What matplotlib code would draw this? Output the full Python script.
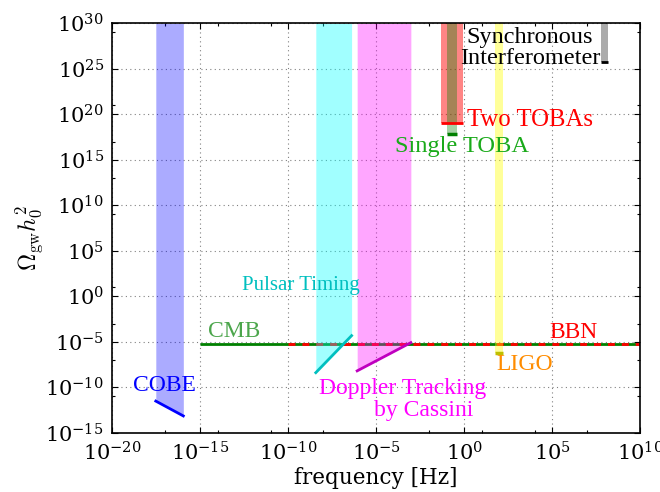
import matplotlib
matplotlib.use("Agg")
import matplotlib.pyplot as plt
import numpy as np
from matplotlib.ticker import FixedLocator, FuncFormatter, NullFormatter

plt.rcParams['font.family'] = ['DejaVu Serif']
plt.rcParams['mathtext.fontset'] = 'dejavuserif'

# ---- data ----
band_top = 1e30

cobe_freq = [3e-18, 1.1e-16]
cobe_omega = [3e-12, 7e-14]

pulsar_freq = [3.7e-9, 4e-7]
pulsar_omega = [4e-9, 4.7e-5]

cassini_freq = [8.3e-7, 9.3e-4]
cassini_omega = [6.3e-9, 8e-6]

cmb_freq = [1e-15, 1e10]
cmb_omega = [5.5e-6, 5.5e-6]

bbn_freq = [1e-10, 1e10]
bbn_omega = [5.5e-6, 5.5e-6]

ligo_freq = [56, 160]
ligo_omega = [5.5e-7, 5.5e-7]

two_toba_freq = [0.048, 0.87]
two_toba_omega = [1.2e19, 1.2e19]

single_toba_freq = [0.105, 0.37]
single_toba_omega = [6.8e17, 6.8e17]

sync_freq = [5.6e7, 1.5e8]
sync_omega = [6e25, 6e25]

x_major = [1e-20, 1e-15, 1e-10, 1e-5, 1e0, 1e5, 1e10]
y_major = [1e-15, 1e-10, 1e-5, 1e0, 1e5, 1e10, 1e15, 1e20, 1e25, 1e30]
x_minor_exp = [-17, -14, -11, -8, -2, 1, 4, 7]
y_minor_exp = [29, 21, 17, 13, 9, 1, -3, -7, -11]

# ---- figure ----
fig = plt.figure(figsize=(6.6, 4.92), dpi=100)
ax = fig.add_axes([0.170, 0.1205, 0.800, 0.832])
ax.set_xscale('log')
ax.set_yscale('log')
ax.set_xlim(1e-20, 1e10)
ax.set_ylim(1e-15, 1e30)

# background limit lines
ax.plot(cmb_freq, cmb_omega, color='green', lw=2, zorder=2, solid_capstyle='butt')
ax.plot(bbn_freq, bbn_omega, color='red', lw=2, dashes=(2.5, 2.5), zorder=2.1)

# bands (drawn over the limit lines)
ax.fill_between(cobe_freq, cobe_omega, band_top, color='blue', alpha=0.33, lw=0, zorder=3)
ax.fill_between(pulsar_freq, pulsar_omega, band_top, color='cyan', alpha=0.37, lw=0, zorder=3)
ax.fill_between(cassini_freq, cassini_omega, band_top, color='magenta', alpha=0.35, lw=0, zorder=3)
ax.fill_between(ligo_freq, ligo_omega, band_top, color='yellow', alpha=0.4, lw=0, zorder=3)
ax.fill_between(two_toba_freq, two_toba_omega, band_top, color='red', alpha=0.48, lw=0, zorder=3)
ax.fill_between(single_toba_freq, single_toba_omega, band_top, color='green', alpha=0.35, lw=0, zorder=3.1)
ax.fill_between(sync_freq, sync_omega, band_top, color='black', alpha=0.33, lw=0, zorder=3)

# sensitivity lines
ax.plot(cobe_freq, cobe_omega, color='b', lw=2, zorder=4)
ax.plot(pulsar_freq, pulsar_omega, color='c', lw=2, zorder=4)
ax.plot(cassini_freq, cassini_omega, color='m', lw=2, zorder=4)
ax.plot(ligo_freq, ligo_omega, color='y', lw=2.5, zorder=4, solid_capstyle='butt')
ax.plot(two_toba_freq, two_toba_omega, color='red', lw=2, zorder=4, solid_capstyle='butt')
ax.plot(single_toba_freq, single_toba_omega, color='green', lw=2.5, zorder=4, solid_capstyle='butt')
ax.plot(sync_freq, sync_omega, color='black', lw=2, zorder=4, solid_capstyle='butt')

# labels
tf = 'Liberation Serif'
fs = 17
ax.text(10**-17.03, 10**-9.86, 'COBE', color='blue', fontsize=fs, family=tf, ha='center', va='center', zorder=5)
ax.text(10**-13.09, 10**-3.9, 'CMB', color='green', alpha=0.7, fontsize=fs, family=tf, ha='center', va='center', zorder=5)
ax.text(10**-9.3, 10**1.2, 'Pulsar Timing', color='c', fontsize=15, family=tf, ha='center', va='center', zorder=5)
ax.text(10**-3.5, 10**-10.19, 'Doppler Tracking', color='magenta', fontsize=fs, family=tf, ha='center', va='center', zorder=5)
ax.text(10**-2.32, 10**-12.6, 'by Cassini', color='magenta', fontsize=fs, family=tf, ha='center', va='center', zorder=5)
ax.text(10**6.23, 10**-3.96, 'BBN', color='red', fontsize=fs, family=tf, ha='center', va='center', zorder=5)
ax.text(10**3.43, 10**-7.55, 'LIGO', color='darkorange', fontsize=fs, family=tf, ha='center', va='center', zorder=5)
ax.text(10**0.15, 10**19.37, 'Two TOBAs', color='red', fontsize=17.8, family=tf, ha='left', va='center', zorder=5)
ax.text(10**-3.94, 10**16.44, 'Single TOBA', color='#1aaa1a', fontsize=17.6, family=tf, ha='left', va='center', zorder=5)
ax.text(10**3.73, 10**27.29, 'Synchronous\nInterferometer', color='black', fontsize=17.5, family=tf,
        ha='center', va='center', linespacing=1.0, zorder=5)

# ticks
fmt = FuncFormatter(lambda v, p: r'$\mathdefault{10^{%d}}$' % int(round(np.log10(v))))
ax.xaxis.set_major_locator(FixedLocator(x_major))
ax.yaxis.set_major_locator(FixedLocator(y_major))
ax.xaxis.set_minor_locator(FixedLocator([10.0**e for e in x_minor_exp]))
ax.yaxis.set_minor_locator(FixedLocator([10.0**e for e in y_minor_exp]))
ax.xaxis.set_major_formatter(fmt)
ax.yaxis.set_major_formatter(fmt)
ax.xaxis.set_minor_formatter(NullFormatter())
ax.yaxis.set_minor_formatter(NullFormatter())
ax.tick_params(which='both', direction='in', top=True, right=True, labelsize=15, colors='black')
ax.tick_params(which='major', length=4, width=0.8, pad=6)
ax.tick_params(which='minor', length=2, width=0.8)
ax.grid(True, which='major', linestyle=(0, (1, 3)), color='gray', lw=0.8)
for s in ax.spines.values():
    s.set_linewidth(1.2)
    s.set_zorder(6)

ax.set_xlabel('frequency [Hz]', fontsize=15.5, labelpad=2)
ax.set_ylabel(r'$\Omega_{\rm gw}h_0^2$', fontsize=17, math_fontfamily='cm')
ax.yaxis.set_label_coords(-0.128, 0.476)

fig.savefig('out.png', dpi=100)
